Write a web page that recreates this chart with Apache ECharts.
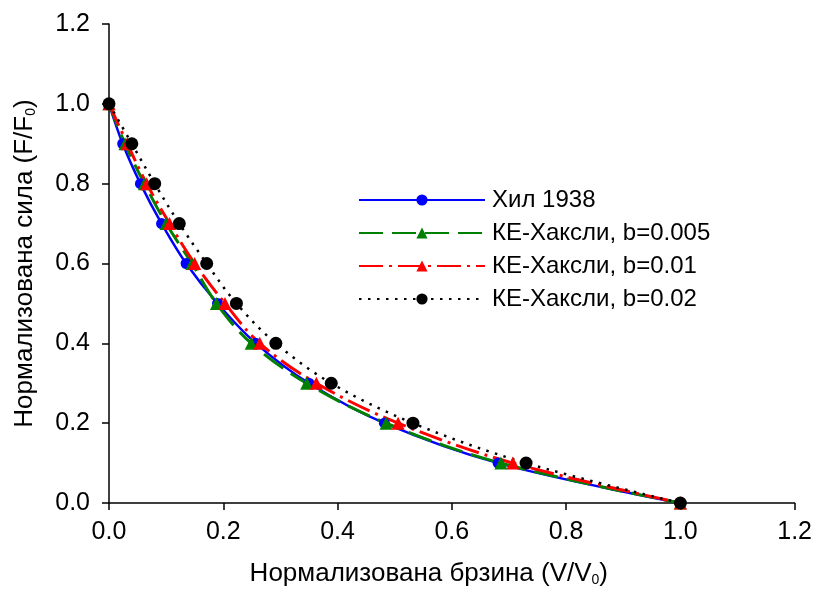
<!DOCTYPE html>
<html>
<head>
<meta charset="utf-8">
<script src="https://cdn.jsdelivr.net/npm/echarts@6/dist/echarts.min.js"></script>
<style>html,body{margin:0;padding:0;background:#fff}#c{width:815px;height:592px}</style>
</head>
<body>
<div id="c"></div>
<script>
const forceF = [1.0, 0.9, 0.8, 0.7, 0.6, 0.5, 0.4, 0.3, 0.2, 0.1, 0.0];
const hillV = [0, 0.024, 0.055, 0.092, 0.135, 0.190, 0.257, 0.350, 0.482, 0.681, 1.0];
const keV005 = [0, 0.028, 0.062, 0.100, 0.145, 0.188, 0.249, 0.346, 0.485, 0.686, 1.0];
const keV01 = [0, 0.032, 0.066, 0.106, 0.150, 0.203, 0.264, 0.363, 0.506, 0.707, 1.0];
const keV02 = [0, 0.040, 0.080, 0.123, 0.171, 0.223, 0.292, 0.389, 0.532, 0.730, 1.0];
const seriesNames = ['Хил 1938', 'КЕ-Хаксли, b=0.005', 'КЕ-Хаксли, b=0.01', 'КЕ-Хаксли, b=0.02'];
const axisTicks = [0.0, 0.2, 0.4, 0.6, 0.8, 1.0, 1.2];

const font = 'Liberation Sans, Arial, sans-serif';
function pts(v) { return v.map((x, i) => [x, forceF[i]]); }

const chart = echarts.init(document.getElementById('c'), null, {renderer: 'canvas'});
const axisCommon = {
  min: axisTicks[0], max: axisTicks[axisTicks.length - 1], interval: 0.2,
  axisLine: {show: true, onZero: false, lineStyle: {color: '#000', width: 1.5}},
  axisTick: {show: true, inside: false, length: 7, lineStyle: {color: '#000', width: 1.5}},
  splitLine: {show: false},
  axisLabel: {color: '#000', fontFamily: font, fontSize: 25, formatter: v => v.toFixed(1)},
  nameLocation: 'middle',
  nameTextStyle: {color: '#000', fontFamily: font}
};
const richName = {
  a: {fontFamily: font, fontSize: 26, color: '#000'},
  s: {fontFamily: font, fontSize: 14, color: '#000', verticalAlign: 'bottom', padding: [11, 0, 0, 0]}
};
chart.setOption({
  animation: false,
  backgroundColor: '#fff',
  grid: {left: 109, right: 20, top: 24, bottom: 84, containLabel: false},
  xAxis: Object.assign({}, axisCommon, {
    type: 'value',
    axisLabel: Object.assign({}, axisCommon.axisLabel, {margin: 17}),
    name: '{a|Нормализована брзина (V/V}{s|0}{a|)}',
    nameGap: 58,
    nameTextStyle: {rich: richName, padding: [0, 46, 0, 0]}
  }),
  yAxis: Object.assign({}, axisCommon, {
    type: 'value',
    axisLabel: Object.assign({}, axisCommon.axisLabel, {margin: 19}),
    name: '{a|Нормализована сила (F/F}{s|0}{a|)}',
    nameGap: 71,
    nameTextStyle: {rich: richName}
  }),
  legend: {
    orient: 'vertical', left: 358, top: 188, padding: 0,
    itemWidth: 126, itemHeight: 14, itemGap: 9,
    textStyle: {color: '#000', fontFamily: font, fontSize: 24, padding: [0, 0, 0, 2]},
    data: seriesNames
  },
  series: [
    {name: seriesNames[0], type: 'line', data: pts(hillV), smooth: 0.35,
     symbol: 'circle', symbolSize: 11, itemStyle: {color: '#0000ff'},
     lineStyle: {color: '#0000ff', width: 2.5, type: 'solid'}},
    {name: seriesNames[1], type: 'line', data: pts(keV005), smooth: 0.35,
     symbol: 'triangle', symbolSize: 13, itemStyle: {color: '#008000'},
     lineStyle: {color: '#008000', width: 3, type: [24, 9]}},
    {name: seriesNames[2], type: 'line', data: pts(keV01), smooth: 0.35,
     symbol: 'triangle', symbolSize: 13, itemStyle: {color: '#ff0000'},
     lineStyle: {color: '#ff0000', width: 3, type: [24, 6, 3, 6]}},
    {name: seriesNames[3], type: 'line', data: pts(keV02), smooth: 0.35,
     symbol: 'circle', symbolSize: 13, itemStyle: {color: '#000000'},
     lineStyle: {color: '#000000', width: 2.5, type: [2.5, 6.5]}}
  ]
});
</script>
</body>
</html>
